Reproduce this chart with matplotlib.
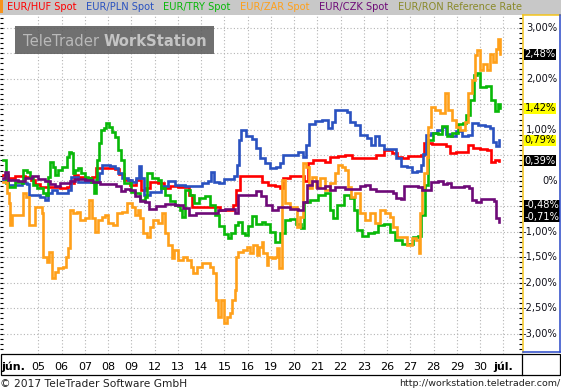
import numpy as np
import matplotlib
matplotlib.use("Agg")
import matplotlib.pyplot as plt
from matplotlib.transforms import blended_transform_factory
from matplotlib.patches import Rectangle, FancyBboxPatch
from matplotlib.lines import Line2D

# -------------
# Data (x: trading days, 0 = 05 June; y: change in %)
# -------------
huf_x = [-1.52, -1.30, -1.00, -0.57, -0.31, -0.14, 0.07, 0.50, 0.93, 1.23, 1.36, 1.53, 1.71, 2.01,
         2.31, 2.48, 2.65, 2.99, 3.30, 3.47, 3.68, 3.94, 4.20, 4.42, 4.59, 4.80, 5.15, 5.40, 5.67,
         6.00, 6.35, 6.48, 6.61, 6.95, 7.38, 7.81, 8.16, 8.37, 8.50, 8.67, 9.10, 9.40, 9.62, 9.88,
         10.18, 10.39, 10.52, 10.82, 11.25, 11.42, 11.59, 11.81, 12.11, 12.33, 12.54, 12.89, 13.19,
         13.49, 13.83, 14.17, 14.52, 14.86, 15.21, 15.42, 15.64, 15.89, 16.20, 16.45, 16.58, 16.93,
         17.27, 17.53, 17.70, 17.96, 18.26, 18.47, 18.69, 18.99, 19.29, 19.46, 19.64, 19.81]
huf_y = [0.11, 0.05, 0.09, 0.07, 0.01, -0.06, -0.12, -0.12, -0.14, -0.12, -0.05, 0.11, 0.07, 0.05,
         0.07, 0.25, 0.25, 0.25, 0.23, 0.13, 0.01, -0.08, 0.01, -0.18, -0.14, -0.03, -0.05, -0.14,
         -0.10, -0.12, -0.12, -0.28, -0.52, -0.52, -0.52, -0.57, -0.57, -0.48, -0.18, 0.09, 0.09,
         0.09, -0.03, -0.08, -0.10, -0.14, 0.05, 0.09, 0.09, -0.01, 0.35, 0.41, 0.41, 0.37, 0.46,
         0.48, 0.50, 0.45, 0.45, 0.45, 0.50, 0.60, 0.54, 0.46, 0.45, 0.48, 0.48, 0.50, 0.74, 0.72,
         0.72, 0.68, 0.54, 0.56, 0.56, 0.70, 0.64, 0.62, 0.60, 0.37, 0.41, 0.39]

pln_x = [-1.52, -1.30, -1.00, -0.70, -0.49, -0.40, -0.14, 0.07, 0.29, 0.42, 0.59, 0.80, 1.06, 1.28,
         1.41, 1.71, 2.14, 2.48, 2.61, 2.74, 3.08, 3.30, 3.43, 3.60, 3.86, 4.03, 4.20, 4.33, 4.42,
         4.54, 4.80, 5.10, 5.28, 5.58, 5.88, 6.31, 6.74, 7.04, 7.30, 7.42, 7.55, 7.77, 7.98, 8.24,
         8.42, 8.54, 8.63, 8.71, 8.93, 9.19, 9.36, 9.53, 9.75, 9.96, 10.22, 10.39, 10.52, 10.82,
         11.16, 11.38, 11.51, 11.64, 11.89, 12.20, 12.45, 12.63, 12.76, 13.06, 13.27, 13.40, 13.62,
         13.83, 14.13, 14.30, 14.48, 14.65, 14.86, 15.21, 15.38, 15.59, 15.85, 16.07, 16.28, 16.45,
         16.54, 16.67, 16.88, 17.14, 17.36, 17.53, 17.74, 17.96, 18.21, 18.47, 18.65, 18.90, 19.20,
         19.42, 19.55, 19.68, 19.81]
pln_y = [0.01, -0.08, -0.08, -0.05, -0.06, -0.28, -0.28, -0.32, -0.38, -0.24, -0.18, -0.24, -0.24,
         -0.18, 0.07, -0.03, -0.03, -0.03, 0.15, 0.31, 0.29, 0.25, 0.15, 0.05, 0.01, -0.03, 0.05,
         0.29, 0.05, -0.28, -0.22, -0.22, -0.10, -0.01, -0.08, -0.10, -0.10, -0.05, -0.01, 0.17,
         -0.03, -0.05, 0.03, 0.03, 0.09, 0.31, 0.80, 0.99, 0.88, 0.82, 0.64, 0.45, 0.35, 0.25, 0.27,
         0.35, 0.50, 0.50, 0.56, 0.46, 0.70, 1.11, 1.17, 1.19, 1.03, 1.15, 1.39, 1.39, 1.35, 1.15,
         1.09, 0.90, 0.84, 0.70, 0.88, 0.70, 0.62, 0.62, 0.45, 0.29, 0.27, 0.17, 0.19, 0.31, 0.52,
         0.90, 0.94, 0.99, 1.05, 0.92, 0.88, 0.97, 0.88, 0.90, 1.13, 1.09, 1.07, 1.03, 0.76, 0.68,
         0.80]

try_x = [-1.52, -1.43, -1.39, -1.30, -1.00, -0.70, -0.66, -0.49, -0.36, -0.23, -0.06, 0.07, 0.20,
         0.33, 0.42, 0.50, 0.63, 0.72, 0.85, 1.02, 1.15, 1.23, 1.32, 1.41, 1.49, 1.58, 1.71, 1.84,
         2.01, 2.14, 2.27, 2.39, 2.48, 2.52, 2.61, 2.70, 2.82, 2.91, 3.04, 3.17, 3.30, 3.43, 3.56,
         3.68, 3.86, 3.99, 4.16, 4.37, 4.59, 4.67, 4.89, 5.15, 5.28, 5.45, 5.67, 5.88, 6.00, 6.09,
         6.18, 6.31, 6.52, 6.69, 6.91, 7.17, 7.38, 7.60, 7.77, 7.98, 8.16, 8.28, 8.46, 8.59, 8.76,
         8.89, 9.02, 9.19, 9.36, 9.62, 9.75, 9.96, 10.18, 10.39, 10.61, 10.82, 11.08, 11.29, 11.42,
         11.68, 12.02, 12.33, 12.54, 12.67, 12.84, 13.14, 13.40, 13.57, 13.70, 13.92, 14.17, 14.43,
         14.61, 14.86, 15.12, 15.33, 15.64, 15.89, 16.11, 16.32, 16.45, 16.62, 16.75, 16.97, 17.18,
         17.36, 17.57, 17.79, 18.04, 18.26, 18.39, 18.56, 18.73, 18.86, 18.99, 19.25, 19.46, 19.64,
         19.76, 19.85]
try_y = [0.41, 0.41, -0.05, -0.12, -0.03, -0.05, 0.21, 0.17, 0.07, -0.08, -0.14, -0.14, -0.24,
         -0.28, 0.07, 0.37, 0.27, 0.11, 0.21, 0.27, 0.27, 0.46, 0.56, 0.54, 0.15, 0.21, 0.25, 0.15,
         0.07, 0.05, -0.03, -0.24, 0.01, 0.41, 0.74, 0.99, 1.03, 1.13, 1.05, 0.95, 0.86, 0.60, 0.41,
         -0.05, -0.05, -0.22, -0.24, -0.38, -0.32, 0.15, 0.05, 0.01, -0.14, -0.28, -0.40, -0.48,
         -0.50, -0.57, -0.71, -0.18, -0.28, -0.44, -0.34, -0.30, -0.48, -0.67, -0.89, -1.05, -1.12,
         -1.03, -0.87, -0.81, -1.03, -1.06, -0.89, -0.69, -0.85, -0.81, -0.85, -1.01, -1.20, -1.03,
         -0.77, -0.75, -0.85, -0.93, -0.42, -0.38, -0.28, -0.24, -0.57, -0.73, -0.48, -0.28, -0.34,
         -0.57, -0.97, -1.08, -1.03, -1.01, -0.87, -0.85, -1.01, -1.16, -1.24, -1.24, -1.10, -1.08,
         -0.67, -0.08, 0.80, 0.94, 0.92, 1.07, 0.88, 0.94, 1.11, 1.13, 1.29, 1.58, 2.07, 2.11, 1.84,
         1.86, 1.58, 1.37, 1.50, 1.43]

zar_x = [-1.52, -1.43, -1.35, -1.26, -1.22, -1.13, -0.70, -0.66, -0.53, -0.40, -0.23, -0.14, -0.01,
         0.16, 0.20, 0.37, 0.46, 0.59, 0.72, 0.85, 1.06, 1.19, 1.28, 1.36, 1.49, 1.66, 1.79, 2.01,
         2.18, 2.31, 2.44, 2.57, 2.74, 2.87, 2.99, 3.21, 3.38, 3.60, 3.81, 4.03, 4.16, 4.29, 4.37,
         4.50, 4.67, 4.80, 4.93, 5.15, 5.32, 5.45, 5.58, 5.75, 5.83, 6.00, 6.22, 6.39, 6.56, 6.65,
         6.82, 7.04, 7.25, 7.38, 7.51, 7.64, 7.73, 7.85, 7.98, 8.11, 8.24, 8.33, 8.46, 8.50, 8.59,
         8.80, 8.97, 9.10, 9.23, 9.40, 9.49, 9.62, 9.66, 9.83, 9.88, 10.05, 10.18, 10.26, 10.35,
         10.48, 10.61, 10.82, 11.12, 11.25, 11.38, 11.51, 11.64, 11.77, 11.93, 12.11, 12.33, 12.54,
         12.76, 12.89, 13.06, 13.19, 13.32, 13.44, 13.62, 13.83, 14.04, 14.26, 14.48, 14.69, 14.91,
         15.12, 15.25, 15.42, 15.64, 15.85, 16.07, 16.24, 16.37, 16.41, 16.50, 16.58, 16.71, 16.75,
         16.88, 17.05, 17.27, 17.48, 17.61, 17.79, 17.96, 18.13, 18.34, 18.47, 18.65, 18.77, 18.86,
         18.99, 19.12, 19.29, 19.42, 19.55, 19.68, 19.76, 19.85]
zar_y = [-0.03, -0.03, -0.24, -0.44, -0.87, -0.67, -0.67, -0.24, -0.32, -0.87, -0.87, -0.52, -0.52,
         -0.63, -1.50, -1.59, -1.40, -1.91, -1.79, -1.71, -1.69, -1.50, -1.32, -0.57, -0.63, -0.61,
         -0.77, -0.73, -0.38, -0.73, -1.01, -0.77, -0.71, -0.67, -0.83, -0.87, -0.63, -0.61, -0.44,
         -0.52, -0.67, -0.57, -0.73, -1.03, -1.10, -0.91, -0.77, -0.83, -0.63, -1.03, -1.26, -1.52,
         -1.36, -1.55, -1.50, -1.55, -1.69, -1.81, -1.69, -1.61, -1.61, -1.69, -1.81, -2.34, -2.67,
         -2.34, -2.79, -2.67, -2.59, -2.34, -2.14, -1.50, -1.40, -1.36, -1.30, -1.42, -1.26, -1.46,
         -1.30, -1.20, -1.42, -1.65, -1.50, -1.52, -1.50, -1.32, -1.71, 0.01, -0.44, -0.52, -0.91,
         -0.71, 0.35, 0.27, -0.14, 0.07, -0.12, 0.05, -0.18, -0.05, 0.15, 0.31, 0.27, 0.21, -0.12,
         -0.32, -0.24, -0.63, -0.77, -0.63, -0.83, -0.57, -0.63, -0.71, -0.91, -1.10, -1.10, -1.26,
         -1.12, -1.16, -1.42, -0.63, -0.12, 0.15, 0.46, 1.05, 1.45, 1.39, 1.33, 1.72, 1.39, 1.19,
         1.05, 0.99, 1.15, 1.72, 1.97, 2.46, 2.56, 2.17, 2.29, 2.17, 2.48, 2.33, 2.58, 2.78, 2.48]

czk_x = [-1.52, -1.43, -1.30, -0.87, -0.57, -0.27, -0.01, 0.29, 0.50, 0.72, 0.93, 1.15, 1.36, 1.58,
         2.01, 2.35, 2.65, 3.08, 3.34, 3.56, 3.73, 3.94, 4.16, 4.37, 4.59, 4.76, 5.06, 5.45, 5.88,
         6.22, 6.48, 6.78, 7.12, 7.42, 7.73, 8.03, 8.33, 8.46, 8.59, 8.89, 9.19, 9.36, 9.57, 9.79,
         10.05, 10.30, 10.56, 10.82, 11.16, 11.38, 11.55, 11.77, 11.98, 12.20, 12.33, 12.54, 12.76,
         13.19, 13.62, 13.83, 14.04, 14.26, 14.52, 14.91, 15.25, 15.38, 15.59, 15.72, 16.07, 16.32,
         16.50, 16.75, 16.88, 17.18, 17.40, 17.57, 17.74, 18.04, 18.30, 18.52, 18.65, 18.82, 19.03,
         19.33, 19.59, 19.68, 19.81]
czk_y = [0.05, 0.17, 0.01, -0.01, 0.05, 0.09, 0.03, -0.01, -0.06, -0.10, -0.05, -0.05, -0.01, 0.03,
         0.01, -0.03, -0.06, -0.06, -0.10, -0.20, -0.16, -0.18, -0.30, -0.40, -0.42, -0.55, -0.50,
         -0.46, -0.48, -0.54, -0.67, -0.63, -0.63, -0.63, -0.57, -0.55, -0.55, -0.63, -0.28, -0.28,
         -0.28, -0.20, -0.30, -0.48, -0.57, -0.52, -0.52, -0.55, -0.57, -0.42, -0.08, -0.01, -0.14,
         -0.14, -0.10, -0.18, -0.12, -0.16, -0.16, -0.10, -0.08, -0.16, -0.20, -0.20, -0.24, -0.34,
         -0.36, -0.10, -0.10, -0.12, -0.18, -0.18, -0.03, -0.01, -0.06, -0.05, -0.12, -0.12, -0.10,
         -0.14, -0.38, -0.42, -0.36, -0.36, -0.40, -0.73, -0.81]

ron_x = []
ron_y = []

series_names = ["EUR/HUF Spot", "EUR/PLN Spot", "EUR/TRY Spot", "EUR/ZAR Spot", "EUR/CZK Spot",
                "EUR/RON Reference Rate"]
series_colors = ["#ff0000", "#2a52c0", "#08b808", "#ffa01a", "#6e0a78", "#8a8a2a"]
series_x = [huf_x, pln_x, try_x, zar_x, czk_x, ron_x]
series_y = [huf_y, pln_y, try_y, zar_y, czk_y, ron_y]

# last values shown on the right scale
last_values = [2.48, 1.42, 0.79, 0.39, -0.48, -0.71]
last_box = ["black", "yellow", "yellow", "black", "black", "black"]

day_labels = ["05", "06", "07", "08", "09", "12", "13", "14", "15", "16",
              "19", "20", "21", "22", "23", "26", "27", "28", "29", "30"]
month_start = "jún."
month_end = "júl."

# -------------
# Layout (pixel helpers)
# -------------
W, H = 561, 391


def fx(px):
    return px / W


def fy(py):
    return 1 - py / H


plt.rcParams["font.family"] = "DejaVu Sans"
fig = plt.figure(figsize=(W / 100, H / 100), dpi=100)
fig.patch.set_facecolor("white")

plot_top, plot_bottom, plot_right = 14.5, 354, 522
ax = fig.add_axes([0, fy(plot_bottom), fx(plot_right), (plot_bottom - plot_top) / H])
ax.set_xlim(-1.647, 20.797)
ax.set_ylim(-3.398, 3.259)
for s in ax.spines.values():
    s.set_visible(False)

ax.set_xticks(np.arange(0, len(day_labels) + 1))
ax.set_yticks(np.arange(-3, 3.01, 0.5))
ax.set_yticks(np.arange(-3.3, 3.21, 0.1), minor=True)
ax.tick_params(axis="x", length=0, labelbottom=False)
ax.tick_params(axis="y", which="both", direction="in", length=2.3, width=0.8,
               left=True, right=True, labelleft=False, color="black")
ax.grid(True, which="major", color="#b4b4b4", linestyle=(0, (1, 2)), linewidth=0.8)
ax.set_axisbelow(True)

for xs, ys, c in zip(series_x, series_y, series_colors):
    if xs:
        ax.plot(xs, ys, color=c, lw=1.9, drawstyle="steps-post", solid_joinstyle="miter")

# watermark
wm = FancyBboxPatch((fx(15), fy(54)), fx(214) - fx(15), fy(26) - fy(54),
                    boxstyle="square,pad=0", transform=fig.transFigure,
                    facecolor="#5c5c5c", edgecolor="none", alpha=0.88, zorder=5)
fig.add_artist(wm)

fig.canvas.draw()
renderer = fig.canvas.get_renderer()
t1 = fig.text(fx(23), fy(41), "TeleTrader ", fontsize=10.6, color="#b9b9b9",
              va="center", ha="left", zorder=6)
bb = t1.get_window_extent(renderer)
fig.text(bb.x1 / fig.bbox.width, fy(41), "WorkStation", fontsize=10.6, fontweight="bold",
         color="#c4c4c4", va="center", ha="left", zorder=6)

# legend bar
fig.add_artist(Rectangle((0, fy(plot_top)), 1, 1 - fy(plot_top), transform=fig.transFigure,
                         facecolor="#c8c8c8", edgecolor="none", zorder=1))
fig.add_artist(Rectangle((0, fy(12.5)), fx(2.7), 1 - fy(12.5), transform=fig.transFigure,
                         facecolor="#f7941d", edgecolor="none", zorder=2))
x_pos = 6.7
for name, c in zip(series_names, series_colors):
    t = fig.text(fx(x_pos), fy(7), name, fontsize=7.1, color=c, va="center", ha="left", zorder=3)
    x_pos += t.get_window_extent(renderer).width + 9.5

# right scale panel
yel, blu = "#f2c41c", "#2848c8"
fig.add_artist(Line2D([fx(522.5), fx(522.5)], [fy(15.2), fy(351.5)], color=yel, lw=1.1,
                      transform=fig.transFigure))
fig.add_artist(Line2D([fx(522.5), fx(559.5)], [fy(15.2), fy(15.2)], color=yel, lw=1.1,
                      transform=fig.transFigure))
fig.add_artist(Line2D([fx(560), fx(560)], [fy(15.2), fy(351.5)], color=blu, lw=1.1,
                      transform=fig.transFigure))
fig.add_artist(Line2D([fx(522.5), fx(560)], [fy(351.5), fy(351.5)], color=blu, lw=1.1,
                      transform=fig.transFigure))

# pixel scale of the value axis, used to keep the value boxes apart
px_per_pct = (plot_bottom - plot_top) / (ax.get_ylim()[1] - ax.get_ylim()[0])
box_h = 11.0

tr_right = blended_transform_factory(fig.transFigure, ax.transData)
for v in np.arange(-3, 3.01, 0.5):
    # the scale label is hidden behind a value box when they nearly coincide
    if min(abs(v - lv) for lv in last_values) * px_per_pct < 8:
        continue
    lab = "0%" if abs(v) < 1e-9 else f"{v:.2f}%".replace(".", ",")
    ax.text(fx(557.5), v, lab, transform=tr_right, fontsize=7.1, color="#10101a",
            ha="right", va="center", clip_on=False, zorder=3)

prev = None
for v, box in sorted(zip(last_values, last_box), key=lambda p: -p[0]):
    y = v
    if prev is not None and (prev - y) * px_per_pct < box_h:
        y = prev - box_h / px_per_pct
    prev = y
    tc = "white" if box == "black" else "black"
    ax.text(fx(524.5), y, f"{v:.2f}%".replace(".", ","), transform=tr_right, fontsize=7.1,
            color=tc, ha="left", va="center", clip_on=False, zorder=4,
            bbox=dict(boxstyle="square,pad=0.05", facecolor=box, edgecolor="none"))

# date strip
fig.add_artist(Rectangle((fx(0.5), fy(374.7)), fx(559.5), fy(354.3) - fy(374.7),
                         transform=fig.transFigure, facecolor="none", edgecolor="black", lw=0.9))
fig.add_artist(Line2D([fx(521.6), fx(521.6)], [fy(354.3), fy(374.7)], color="black", lw=0.9,
                      transform=fig.transFigure))
tr_bottom = blended_transform_factory(ax.transData, fig.transFigure)
for i, lab in enumerate(day_labels):
    ax.text(i, fy(366), lab, transform=tr_bottom, fontsize=8, ha="center",
            va="center_baseline", clip_on=False)
ax.text(len(day_labels), fy(366), month_end, transform=tr_bottom, fontsize=8,
        fontweight="bold", ha="center", va="center_baseline", clip_on=False)
fig.text(fx(1.5), fy(366), month_start, fontsize=8, fontweight="bold", ha="left",
         va="center_baseline")

# footer
fig.text(fx(0.5), fy(384), "© 2017 TeleTrader Software GmbH", fontsize=7.7, color="#202020",
         ha="left", va="center")
fig.text(fx(560), fy(384), "http://workstation.teletrader.com/", fontsize=6.8, color="#202020",
         ha="right", va="center")

fig.savefig("out.png", dpi=100)
